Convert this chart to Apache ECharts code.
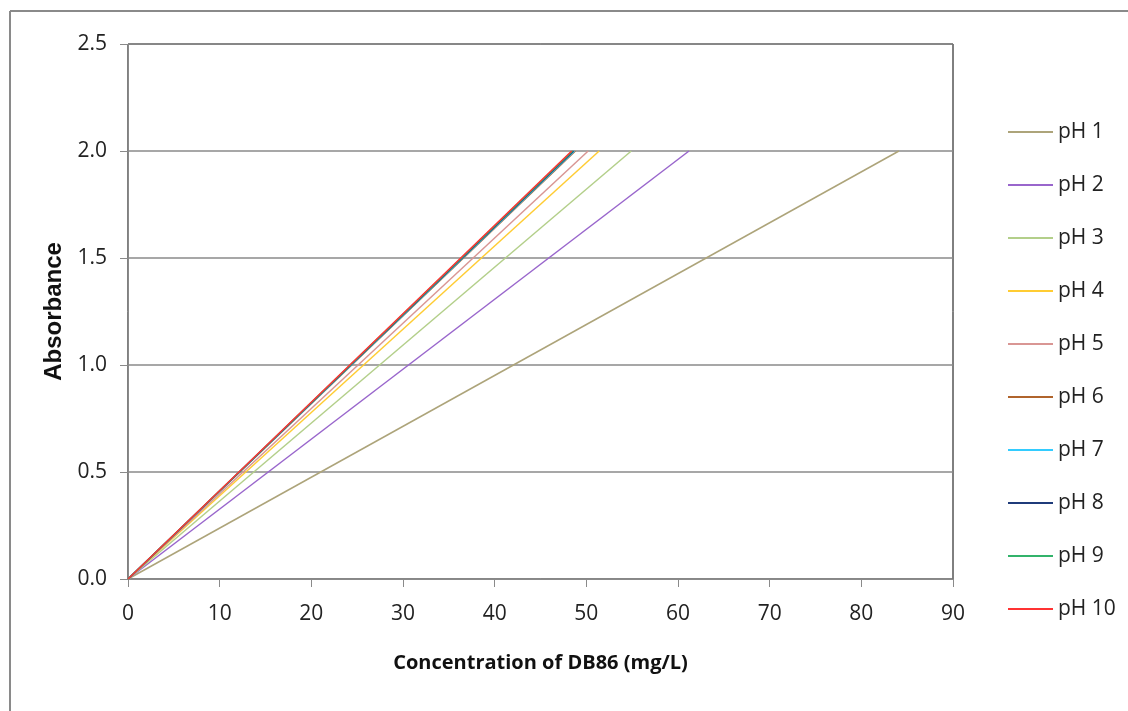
<!DOCTYPE html>
<html>
<head>
    <meta charset="utf-8">
    <title>Absorbance vs concentration</title>
    <script src="https://cdn.jsdelivr.net/npm/echarts@6/dist/echarts.min.js"></script>
    <style>
        html, body { margin: 0; padding: 0; background: #fff; }
        #chart { width: 1128px; height: 711px; }
    </style>
</head>
<body>
<div id="chart"></div>
<script type="text/javascript">
    // 各 pH 的标准曲线：从原点到吸光度 2.0 的终点浓度
    var phNames = ['pH 1', 'pH 2', 'pH 3', 'pH 4', 'pH 5', 'pH 6', 'pH 7', 'pH 8', 'pH 9', 'pH 10'];
    var startConc = [0, 0, 0, 0, 0, 0, 0, 0, 0, 0];
    var endConc = [84.1, 61.2, 54.9, 51.4, 50.2, 48.8, 48.7, 48.6, 48.5, 48.4];
    var startAbs = [0, 0, 0, 0, 0, 0, 0, 0, 0, 0];
    var endAbs = [2.0, 2.0, 2.0, 2.0, 2.0, 2.0, 2.0, 2.0, 2.0, 2.0];
    var lineColors = ['#ADA47A', '#9966CC', '#B3CF8A', '#FFCC33', '#D99694',
        '#B0642C', '#33CCFF', '#1F3B7A', '#33B36B', '#FF3333'];

    var fontFam = '"Open Sans", "Noto Sans", sans-serif';
    var myChart = echarts.init(document.getElementById('chart'));

    var series = phNames.map(function (name, i) {
        return {
            name: name,
            type: 'line',
            symbol: 'none',
            lineStyle: { width: 1.5, color: lineColors[i] },
            itemStyle: { color: lineColors[i] },
            data: [[startConc[i], startAbs[i]], [endConc[i], endAbs[i]]]
        };
    });

    myChart.setOption({
        animation: false,
        graphic: [
            // 外框（左、上）
            { type: 'line', shape: { x1: 10, y1: 11, x2: 1128, y2: 11 }, style: { stroke: '#8a8a8a', lineWidth: 2 } },
            { type: 'line', shape: { x1: 10, y1: 11, x2: 10, y2: 711 }, style: { stroke: '#8a8a8a', lineWidth: 2 } }
        ],
        grid: {
            left: 128, right: 175, top: 44, bottom: 132,
            show: true, borderColor: '#000', borderWidth: 1
        },
        legend: {
            orient: 'vertical',
            left: 1003,
            top: 116,
            icon: 'rect',
            itemWidth: 45,
            itemHeight: 2,
            itemGap: 31,
            textStyle: { fontFamily: fontFam, fontSize: 21, color: '#222', lineHeight: 22 },
            data: phNames
        },
        xAxis: {
            type: 'value',
            min: 0, max: 90, interval: 10,
            name: 'Concentration of DB86 (mg/L)',
            nameLocation: 'middle',
            nameGap: 74,
            nameTextStyle: { fontFamily: fontFam, fontSize: 20, fontWeight: 'bold', color: '#111' },
            axisLine: { onZero: false, lineStyle: { color: '#8a8a8a' } },
            axisTick: { show: true, length: 8, lineStyle: { color: '#8a8a8a' } },
            axisLabel: { fontFamily: fontFam, fontSize: 21, color: '#222', margin: 25 },
            splitLine: { show: false }
        },
        yAxis: {
            type: 'value',
            min: 0, max: 2.5, interval: 0.5,
            name: 'Absorbance',
            nameLocation: 'middle',
            nameGap: 62,
            nameRotate: 90,
            nameTextStyle: { fontFamily: '"Liberation Sans", Arial, sans-serif', fontSize: 24, fontWeight: 'bold', color: '#111' },
            axisLine: { show: true, lineStyle: { color: '#8a8a8a' } },
            axisTick: { show: true, length: 8, lineStyle: { color: '#8a8a8a' } },
            axisLabel: {
                fontFamily: fontFam, fontSize: 21, color: '#222', margin: 21,
                formatter: function (v) { return v.toFixed(1); }
            },
            splitLine: { show: true, lineStyle: { color: '#8a8a8a', width: 1.5 } }
        },
        series: series
    });
</script>
</body>
</html>
